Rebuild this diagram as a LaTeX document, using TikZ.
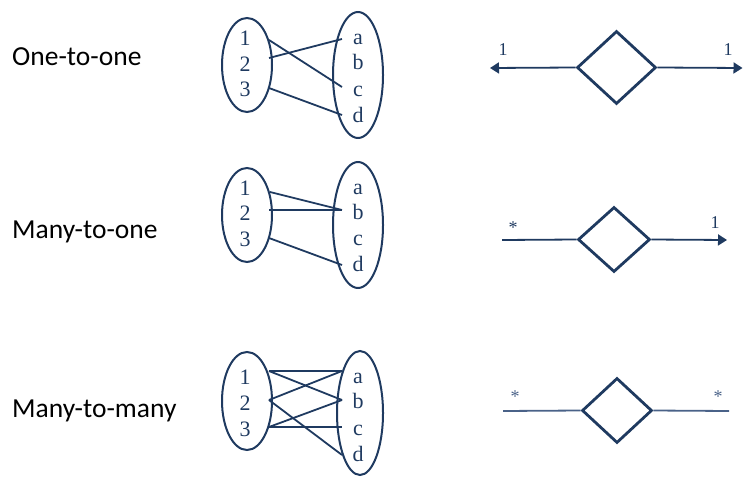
\documentclass[tikz,border=0pt]{standalone}
\usepackage{fontspec}
\newfontfamily\elemfont{Liberation Serif}
\newfontfamily\labelfont{Carlito}
\usetikzlibrary{shapes.geometric,arrows.meta}
\definecolor{navy}{HTML}{1F3A60}
\definecolor{lightnavy}{HTML}{4A6288}
\tikzset{
  setring/.style={draw=navy,line width=2pt,ellipse,inner sep=0pt},
  elem/.style={text=navy,font=\elemfont\fontsize{22}{22}\selectfont,anchor=base,inner sep=0pt},
  maplink/.style={draw=navy,line width=1.8pt},
  kind/.style={font=\labelfont\fontsize{27.5}{28}\selectfont,anchor=base west,inner sep=0pt},
  relbox/.style={draw=navy,line width=2.8pt,diamond,inner sep=0pt},
  relline/.style={draw=navy,line width=1.8pt},
  relarrow/.style={relline,-{Triangle[length=9pt,width=11pt]}},
  mult/.style={text=navy,font=\elemfont\fontsize{18}{18}\selectfont,inner sep=0pt},
}
\begin{document}
\begin{tikzpicture}[x=1pt,y=-1pt]
\useasboundingbox (0,0) rectangle (743,476);

% ---------- row 1: one-to-one ----------
\node[kind] (k1) at (12,66) {One-to-one};
\node[setring,minimum width=50pt,minimum height=94pt] (A1) at (247,65) {};
\node[setring,minimum width=50pt,minimum height=126pt] (B1) at (358,75) {};
\node[elem] (a1n1) at (245,46) {1};
\node[elem] (a1n2) at (245,71.5) {2};
\node[elem] (a1n3) at (245,97) {3};
\node[elem] (b1a) at (358,45) {a};
\node[elem] (b1b) at (358,70) {b};
\node[elem] (b1c) at (358,96) {c};
\node[elem] (b1d) at (358,122.5) {d};
\coordinate (s11) at (269,40);
\coordinate (s12) at (269,58);
\coordinate (s13) at (269,88);
\coordinate (t1a) at (342,39);
\coordinate (t1c) at (342,87);
\coordinate (t1d) at (342,115);
\draw[maplink] (s11) -- (t1c);
\draw[maplink] (s12) -- (t1a);
\draw[maplink] (s13) -- (t1d);

\node[relbox,minimum width=79pt,minimum height=73pt] (R1) at (616.5,67.5) {};
\coordinate (e1l) at (490,68);
\coordinate (e1r) at (742.5,68);
\draw[relarrow] (R1.west) -- (e1l);
\draw[relarrow] (R1.east) -- (e1r);
\node[mult] (m1l) at (503,50) {1};
\node[mult] (m1r) at (728,50) {1};

% ---------- row 2: many-to-one ----------
\node[kind] (k2) at (12,238) {Many-to-one};
\node[setring,minimum width=50pt,minimum height=94pt] (A2) at (247,215) {};
\node[setring,minimum width=50pt,minimum height=126pt] (B2) at (358,225) {};
\node[elem] (a2n1) at (245,195) {1};
\node[elem] (a2n2) at (245,220.5) {2};
\node[elem] (a2n3) at (245,246) {3};
\node[elem] (b2a) at (358,194) {a};
\node[elem] (b2b) at (358,219) {b};
\node[elem] (b2c) at (358,245) {c};
\node[elem] (b2d) at (358,271.5) {d};
\coordinate (s21) at (270,192);
\coordinate (s22) at (269,210);
\coordinate (s23) at (269,238);
\coordinate (t2b) at (342,210);
\coordinate (t2d) at (342,265);
\draw[maplink] (s21) -- (t2b);
\draw[maplink] (s22) -- (t2b);
\draw[maplink] (s23) -- (t2d);

\node[relbox,minimum width=72pt,minimum height=65pt] (R2) at (614,239.5) {};
\coordinate (e2l) at (502,240);
\coordinate (e2r) at (727,240);
\draw[relline] (R2.west) -- (e2l);
\draw[relarrow] (R2.east) -- (e2r);
\node[mult] (m2l) at (513,228) {*};
\node[mult] (m2r) at (715,223) {1};

% ---------- row 3: many-to-many ----------
\node[kind] (k3) at (12,417) {Many-to-many};
\node[setring,minimum width=50pt,minimum height=98pt] (A3) at (247,401) {};
\node[setring,minimum width=46pt,minimum height=124pt] (B3) at (360,413) {};
\node[elem] (a3n1) at (245,384) {1};
\node[elem] (a3n2) at (245,410.5) {2};
\node[elem] (a3n3) at (245,436.5) {3};
\node[elem] (b3a) at (358,383) {a};
\node[elem] (b3b) at (358,408) {b};
\node[elem] (b3c) at (358,435.5) {c};
\node[elem] (b3d) at (358,461) {d};
\coordinate (s31) at (269,371);
\coordinate (s32) at (269,400);
\coordinate (s33) at (269,427);
\coordinate (t3a) at (342,371);
\coordinate (t3b) at (342,400);
\coordinate (t3c) at (342,427);
\coordinate (t3d) at (342,455);
\draw[maplink] (s31) -- (t3a);
\draw[maplink] (s31) -- (t3b);
\draw[maplink] (s32) -- (t3a);
\draw[maplink] (s32) -- (t3d);
\draw[maplink] (s33) -- (t3b);
\draw[maplink] (s33) -- (t3c);

\node[relbox,minimum width=70pt,minimum height=65pt] (R3) at (617,410.5) {};
\coordinate (e3l) at (503,411);
\coordinate (e3r) at (729,411);
\draw[relline,draw=lightnavy] (R3.west) -- (e3l);
\draw[relline,draw=lightnavy] (R3.east) -- (e3r);
\node[mult,text=lightnavy] (m3l) at (515,397) {*};
\node[mult,text=lightnavy] (m3r) at (718,397) {*};
\end{tikzpicture}
\end{document}
